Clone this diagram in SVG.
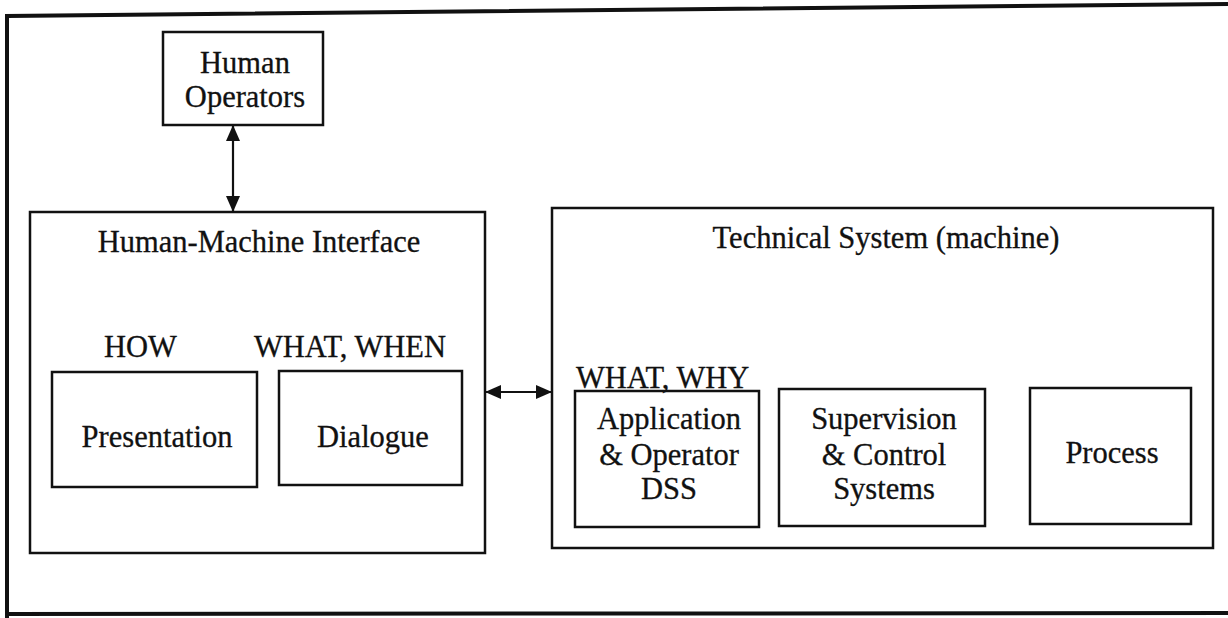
<svg xmlns="http://www.w3.org/2000/svg" width="1228" height="618" viewBox="0 0 1228 618">
<defs>
<style>
.box{fill:none;stroke:#111;stroke-width:2.5}
.frame{fill:none;stroke:#111;stroke-width:4}
.t{font-family:"Liberation Serif","Times New Roman",serif;font-size:30.5px;fill:#111;stroke:#111;stroke-width:0.3}
.c{text-anchor:middle}
.conn{stroke:#111;stroke-width:2.2;fill:none}
</style>
<marker id="ah" viewBox="0 0 16 14" refX="15" refY="7" markerWidth="16" markerHeight="14" markerUnits="userSpaceOnUse" orient="auto-start-reverse">
<path d="M0,0 L16,7 L0,14 Z" fill="#111"/>
</marker>
</defs>
<rect x="0" y="0" width="1228" height="618" fill="#fff"/>
<g id="frame">
<path class="frame" d="M1228,4 L7,16 L7,618"/>
<path class="frame" d="M7,614 L1228,613" stroke-width="5"/>
</g>
<g id="human-operators">
<rect class="box" x="163" y="32" width="160" height="93"/>
<text class="t c" x="245" y="73">Human</text>
<text class="t c" x="245" y="107">Operators</text>
</g>
<g id="hmi">
<rect class="box" x="30" y="212" width="455" height="341"/>
<text class="t c" x="259" y="252">Human-Machine Interface</text>
<text class="t" x="104" y="357">HOW</text>
<text class="t" x="254" y="357">WHAT, WHEN</text>
</g>
<g id="presentation">
<rect class="box" x="52" y="372" width="205" height="115"/>
<text class="t c" x="157" y="447">Presentation</text>
</g>
<g id="dialogue">
<rect class="box" x="279" y="371" width="183" height="114"/>
<text class="t c" x="373" y="447">Dialogue</text>
</g>
<g id="technical-system">
<rect class="box" x="552" y="208" width="661" height="340"/>
<text class="t c" x="886" y="248">Technical System (machine)</text>
<text class="t" x="576" y="388">WHAT, WHY</text>
</g>
<g id="application">
<rect class="box" x="575" y="391" width="184" height="136"/>
<text class="t c" x="669" y="429">Application</text>
<text class="t c" x="669" y="465">&amp; Operator</text>
<text class="t c" x="669" y="499">DSS</text>
</g>
<g id="supervision">
<rect class="box" x="779" y="389" width="206" height="137"/>
<text class="t c" x="884" y="429">Supervision</text>
<text class="t c" x="884" y="465">&amp; Control</text>
<text class="t c" x="884" y="499">Systems</text>
</g>
<g id="process">
<rect class="box" x="1030" y="388" width="161" height="136"/>
<text class="t c" x="1112" y="463">Process</text>
</g>
<g id="connectors">
<line class="conn" x1="233" y1="126" x2="233" y2="211" marker-start="url(#ah)" marker-end="url(#ah)"/>
<line class="conn" x1="486" y1="392" x2="551" y2="392" marker-start="url(#ah)" marker-end="url(#ah)"/>
</g>
</svg>
